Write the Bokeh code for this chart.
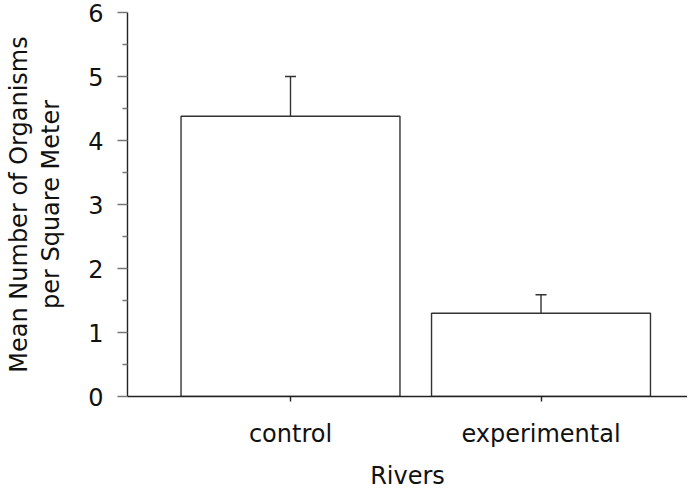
from bokeh.plotting import figure
from bokeh.models import (ColumnDataSource, Range1d, LinearAxis, FixedTicker,
                          Whisker, TeeHead)
from bokeh.embed import file_html
from bokeh.resources import INLINE

# ---- data ----
categories = ["control", "experimental"]
means = [4.38, 1.30]
errors = [0.62, 0.29]
y_ticks = [0, 1, 2, 3, 4, 5, 6]
y_minor = [0.5, 1.5, 2.5, 3.5, 4.5, 5.5]
x_title = "Rivers"
y_title_1 = "Mean Number of Organisms"
y_title_2 = "per Square Meter"

xpos = [i + 1 for i in range(len(categories))]
upper = [m + e for m, e in zip(means, errors)]
src = ColumnDataSource(dict(x=xpos, top=means, upper=upper, cat=categories))

FONT = "DejaVu Sans"
FS = "24px"
TXT = "#111111"
AX = "#222222"
TK = "#777777"

p = figure(width=687, height=492, output_backend="svg", toolbar_location=None,
           x_range=Range1d(0.3493, 2.5848), y_range=Range1d(0, 6),
           x_axis_location=None, y_axis_location=None,
           min_border_left=127, min_border_right=0, min_border_top=12,
           min_border_bottom=96)
p.outline_line_color = None
p.xgrid.visible = False
p.ygrid.visible = False
p.background_fill_color = "white"

p.vbar(x="x", top="top", bottom=0, width=0.874, source=src,
       fill_color="white", line_color="#333333", line_width=1.4)

w = Whisker(base="x", upper="upper", lower="top", source=src,
            line_color="#333333", line_width=1.4,
            upper_head=TeeHead(size=11, line_color="#333333", line_width=1.4),
            lower_head=None)
p.add_layout(w)

# y axis
ya = LinearAxis(ticker=FixedTicker(ticks=y_ticks, minor_ticks=y_minor))
ya.axis_line_color = AX
ya.axis_line_width = 1.4
ya.major_tick_line_color = TK
ya.major_tick_line_width = 1.4
ya.major_tick_out = 10
ya.major_tick_in = 0
ya.minor_tick_line_color = TK
ya.minor_tick_line_width = 1.4
ya.minor_tick_out = 5
ya.minor_tick_in = 0
ya.major_label_text_font = FONT
ya.major_label_text_font_size = FS
ya.major_label_text_color = TXT
ya.major_label_standoff = 14
ya.axis_label = y_title_2
ya.axis_label_text_font = FONT
ya.axis_label_text_font_size = FS
ya.axis_label_text_font_style = "normal"
ya.axis_label_text_color = TXT
ya.axis_label_standoff = 20
p.add_layout(ya, "left")

ya2 = LinearAxis(ticker=FixedTicker(ticks=[]))
ya2.axis_line_color = None
ya2.major_tick_line_color = None
ya2.minor_tick_line_color = None
ya2.axis_label = y_title_1
ya2.axis_label_text_font = FONT
ya2.axis_label_text_font_size = FS
ya2.axis_label_text_font_style = "normal"
ya2.axis_label_text_color = TXT
ya2.axis_label_standoff = 2
p.add_layout(ya2, "left")

# x axis
xa = LinearAxis(ticker=FixedTicker(ticks=xpos, minor_ticks=[]),
                major_label_overrides={x: c for x, c in zip(xpos, categories)})
xa.axis_line_color = AX
xa.axis_line_width = 1.4
xa.major_tick_line_color = AX
xa.major_tick_line_width = 1.4
xa.major_tick_out = 5
xa.major_tick_in = 0
xa.minor_tick_line_color = None
xa.major_label_text_font = FONT
xa.major_label_text_font_size = FS
xa.major_label_text_color = TXT
xa.major_label_standoff = 18
xa.axis_label = x_title
xa.axis_label_text_font = FONT
xa.axis_label_text_font_size = FS
xa.axis_label_text_font_style = "normal"
xa.axis_label_text_color = TXT
xa.axis_label_standoff = 11
p.add_layout(xa, "below")

open("out.html", "w").write(file_html(p, INLINE))
